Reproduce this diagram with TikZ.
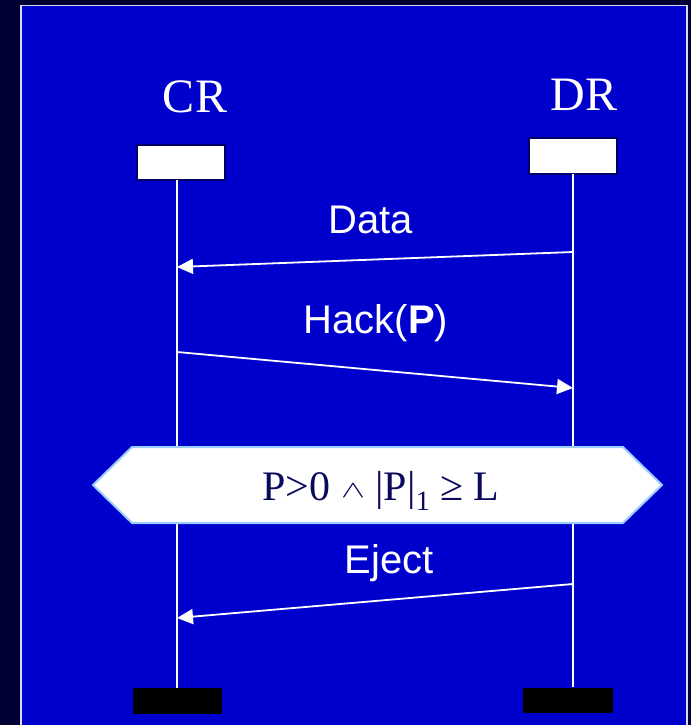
\documentclass[tikz,border=0pt]{standalone}
\usepackage{fontspec}
\usepackage{graphicx}
\setmainfont{Liberation Serif}
\newfontfamily\arialfont{Liberation Sans}
\usetikzlibrary{arrows.meta}
\definecolor{navybg}{HTML}{000033}
\definecolor{slideblue}{HTML}{0000CC}
\definecolor{boxedge}{HTML}{000066}
\definecolor{hexedge}{HTML}{99CCFF}
\definecolor{formulacol}{HTML}{0A0A5C}
\begin{document}
\begin{tikzpicture}[x=1pt,y=-1pt,
  actorlabel/.style={text=white,font=\fontsize{48}{48}\selectfont,anchor=base,inner sep=0pt},
  msglabel/.style={text=white,font=\arialfont\fontsize{40}{40}\selectfont,anchor=base,inner sep=0pt},
  headbox/.style={fill=white,draw=boxedge,line width=2.5pt},
  footbox/.style={fill=black,draw=none},
  lifeline/.style={draw=white,line width=2pt},
  msg/.style={draw=white,line width=1.8pt,-{Triangle[length=16pt,width=15pt]}}]
  % page and slide background
  \fill[navybg] (0,0) rectangle (691,725);
  \useasboundingbox (0,0) rectangle (691,725);
  \fill[slideblue] (21,5.5) rectangle (687,740);
  \draw[white!85!slideblue,line width=1.5pt] (21,740) -- (21,5.5) -- (687,5.5) -- (687,740);

  % actors
  \node[actorlabel] (crname) at (195,112) {CR};
  \node[actorlabel] (drname) at (584,110) {DR};
  \path[headbox] (137,145) rectangle (225,180);
  \path[headbox] (529,138) rectangle (617,174);
  \coordinate (crtop) at (177,180);
  \coordinate (drtop) at (573,174);
  \coordinate (crbot) at (177,688);
  \coordinate (drbot) at (573,687);
  \draw[lifeline] (crtop) -- (crbot);
  \draw[lifeline] (drtop) -- (drbot);
  \fill[footbox] (133,688) rectangle (222,714);
  \fill[footbox] (523,688) rectangle (613,713);

  % message anchors on the lifelines
  \coordinate (dataout) at (573,252);
  \coordinate (datain) at (177,267);
  \coordinate (hackout) at (177,352);
  \coordinate (hackin) at (573,388);
  \coordinate (ejectout) at (573,584);
  \coordinate (ejectin) at (177,618);

  % messages
  \node[msglabel] (datalbl) at (371,233) {Data};
  \draw[msg] (dataout) -- (datain);
  \node[msglabel] (hacklbl) at (376,333) {Hack(\textbf{P})};
  \draw[msg] (hackout) -- (hackin);
  \node[msglabel] (ejectlbl) at (389,573) {Eject};
  \draw[msg] (ejectout) -- (ejectin);

  % condition box
  \draw[fill=white,draw=hexedge,line width=2pt]
    (93,485) -- (132,447) -- (623,447) -- (662,485) -- (623,523) -- (132,523) -- cycle;
  \node[anchor=base,inner sep=0pt,text=formulacol,font=\fontsize{42}{42}\selectfont] (cond) at (381,500)
    {P>0 \raisebox{3pt}{\scalebox{3.6}[2.4]{\normalsize$\wedge$}} |P|\raisebox{-10pt}{\fontsize{28}{28}\selectfont 1} ≥ L};
\end{tikzpicture}
\end{document}
